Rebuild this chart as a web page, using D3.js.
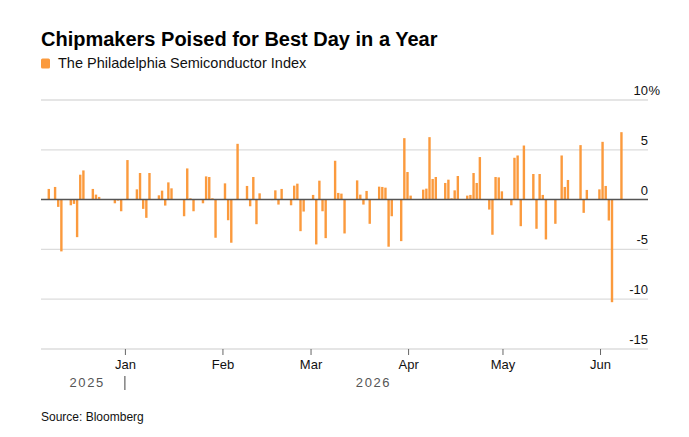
<!DOCTYPE html>
<html>
<head>
<meta charset="utf-8">
<script src="https://cdn.jsdelivr.net/npm/d3@7"></script>
<style>
  html, body { margin: 0; padding: 0; background: #fff; }
  body { width: 689px; height: 437px; overflow: hidden; font-family: "Liberation Sans", Arial, sans-serif; }
  .grid line { stroke: #dcdcdc; stroke-width: 1.3; }
  .ylab { font-size: 13px; fill: #111; }
  .mlab { font-size: 13px; fill: #111; }
  .yrlab { font-size: 13px; fill: #555; letter-spacing: 1.6px; }
</style>
</head>
<body>
<div id="chart"></div>
<script>
// ── data: daily % change, Philadelphia Semiconductor Index ────────────────────
const dates = [
  '2025-12-08','2025-12-10','2025-12-11','2025-12-12',
  '2025-12-15','2025-12-16','2025-12-17','2025-12-18','2025-12-19',
  '2025-12-22','2025-12-23','2025-12-24','2025-12-26',
  '2025-12-29','2025-12-30','2025-12-31','2026-01-02',
  '2026-01-05','2026-01-06','2026-01-07','2026-01-08','2026-01-09',
  '2026-01-12','2026-01-13','2026-01-14','2026-01-15','2026-01-16',
  '2026-01-20','2026-01-21','2026-01-22','2026-01-23',
  '2026-01-26','2026-01-27','2026-01-28','2026-01-29','2026-01-30',
  '2026-02-02','2026-02-03','2026-02-04','2026-02-06',
  '2026-02-09','2026-02-10','2026-02-11','2026-02-12','2026-02-13',
  '2026-02-17','2026-02-18','2026-02-19','2026-02-20',
  '2026-02-23','2026-02-24','2026-02-25','2026-02-26','2026-02-27',
  '2026-03-02','2026-03-03','2026-03-04','2026-03-05','2026-03-06',
  '2026-03-09','2026-03-10','2026-03-11','2026-03-12',
  '2026-03-16','2026-03-17','2026-03-18','2026-03-19','2026-03-20',
  '2026-03-23','2026-03-24','2026-03-25','2026-03-26','2026-03-27',
  '2026-03-30','2026-03-31','2026-04-01','2026-04-02',
  '2026-04-06','2026-04-07','2026-04-08','2026-04-09','2026-04-10',
  '2026-04-13','2026-04-14','2026-04-15','2026-04-16','2026-04-17',
  '2026-04-20','2026-04-21','2026-04-22','2026-04-23','2026-04-24',
  '2026-04-27','2026-04-28','2026-04-29','2026-04-30','2026-05-01',
  '2026-05-04','2026-05-05','2026-05-06','2026-05-07','2026-05-08',
  '2026-05-11','2026-05-12','2026-05-13','2026-05-14','2026-05-15',
  '2026-05-18','2026-05-20','2026-05-21','2026-05-22',
  '2026-05-26','2026-05-27','2026-05-28',
  '2026-06-01','2026-06-02','2026-06-03','2026-06-04','2026-06-05',
  '2026-06-08'
];
const changes = [
  1.07, 1.27, -0.73, -5.2,
  -0.57, -0.43, -3.77, 2.5, 2.93,
  1.07, 0.5, 0.27, 0.05,
  -0.37, -0.1, -1.17, 3.97,
  1.03, 2.67, -0.93, -1.83, 2.67,
  0.43, 0.9, -0.6, 1.73, 1.13,
  -1.67, 3.13, 0.13, -1.17,
  -0.37, 2.33, 2.27, 0.13, -3.83,
  1.63, -2.07, -4.33, 5.6,
  1.37, -0.67, 2.27, -2.47, 0.63,
  -0.05, 0.93, -0.5, 1.07,
  -0.57, 1.4, 1.6, -3.17, -1.2,
  0.47, -4.5, 1.9, -1.17, -3.87,
  3.9, 0.67, 0.6, -3.4,
  1.93, 0.5, -0.5, 0.87, -2.43,
  1.3, 1.27, 1.2, -4.73, -1.67,
  -4.17, 6.17, 2.77, 0.4,
  1.0, 1.1, 6.27, 2.07, 2.27,
  1.67, 2.0, 0.13, 0.93, 2.37,
  0.4, 0.47, 2.67, 1.67, 4.27,
  -1.0, -3.53, 2.27, 2.23, 0.83,
  -0.57, 4.2, 4.43, -2.67, 5.43,
  2.57, -2.93, 2.57, 0.47, -4.0,
  -2.43, 4.43, 1.27, 1.97,
  5.47, -1.33, 0.97,
  1.03, 5.8, 1.37, -2.1, -10.3,
  6.77
];
const yTicks = [10, 5, 0, -5, -10, -15];
const monthTicks = ['2026-01-01','2026-02-01','2026-03-01','2026-04-01','2026-05-01','2026-06-01'];
const monthLabels = ['Jan', 'Feb', 'Mar', 'Apr', 'May', 'Jun'];
const yearLabels = ['2025', '2026'];

const title = 'Chipmakers Poised for Best Day in a Year';
const seriesName = 'The Philadelphia Semiconductor Index';
const source = 'Source: Bloomberg';
const barColor = '#fb9a3d';

// ── layout ───────────────────────────────────────────────────────────────────
const W = 689, H = 437;
const plotLeft = 41, plotRight = 648, plotTop = 100, plotBottom = 349;

const parse = d3.utcParse('%Y-%m-%d');
const rows = dates.map((d, i) => ({ date: parse(d), v: changes[i] }));

const xScale = d3.scaleUtc()
  .domain([Date.UTC(2025, 11, 5, 8), Date.UTC(2026, 5, 16, 6)])
  .range([plotLeft, plotRight]);

const yScale = d3.scaleLinear()
  .domain([-15, 10])
  .range([plotBottom, plotTop]);

const svg = d3.select('#chart')
  .append('svg')
    .attr('width', W)
    .attr('height', H);

// ── title + legend ───────────────────────────────────────────────────────────
svg.append('text')
  .attr('x', plotLeft).attr('y', 46)
  .attr('font-size', 20).attr('font-weight', 700)
  .attr('fill', '#000')
  .text(title);

svg.append('rect')
  .attr('x', plotLeft).attr('y', 58.5)
  .attr('width', 9).attr('height', 10)
  .attr('rx', 1.5)
  .attr('fill', barColor);

svg.append('text')
  .attr('x', 58).attr('y', 68)
  .attr('font-size', 14.5).attr('fill', '#111')
  .text(seriesName);

// ── y grid + labels ──────────────────────────────────────────────────────────
const grid = svg.append('g').attr('class', 'grid');
grid.selectAll('line')
  .data(yTicks.filter(t => t !== 0))
  .join('line')
    .attr('x1', plotLeft).attr('x2', plotRight)
    .attr('y1', d => yScale(d)).attr('y2', d => yScale(d));

svg.append('g')
  .selectAll('text')
  .data(yTicks)
  .join('text')
    .attr('class', 'ylab')
    .attr('x', plotRight)
    .attr('y', d => yScale(d) - 5)
    .attr('text-anchor', 'end')
    .text(d => d);

// percent sign hangs past the right edge on the top label
svg.append('text')
  .attr('class', 'ylab')
  .attr('x', plotRight + 0.5)
  .attr('y', yScale(yTicks[0]) - 5)
  .text('%');

// ── bars ─────────────────────────────────────────────────────────────────────
svg.append('g')
  .selectAll('rect')
  .data(rows)
  .join('rect')
    .attr('x', d => xScale(d.date) - 1.8)
    .attr('width', 2.4)
    .attr('y', d => yScale(Math.max(0, d.v)))
    .attr('height', d => Math.abs(yScale(d.v) - yScale(0)))
    .attr('fill', barColor);

// zero line on top
svg.append('line')
  .attr('x1', plotLeft).attr('x2', plotRight)
  .attr('y1', yScale(0)).attr('y2', yScale(0))
  .attr('stroke', '#555').attr('stroke-width', 1.5);

// ── x axis (months) ──────────────────────────────────────────────────────────
const monthDates = monthTicks.map(parse);
svg.append('g')
  .attr('transform', `translate(0,${plotBottom})`)
  .call(
    d3.axisBottom(xScale)
      .tickValues(monthDates)
      .tickSize(6)
      .tickPadding(5)
      .tickFormat((d, i) => monthLabels[i])
  )
  .call(g => g.select('.domain').remove())
  .call(g => g.selectAll('.tick line').attr('stroke', '#666').attr('stroke-width', 1))
  .call(g => g.selectAll('.tick text')
    .attr('class', 'mlab')
    .attr('font-family', null).attr('font-size', null)
    .attr('fill', '#111'));

// years: centred on each year's span of data, with a divider at the boundary
const yearStart = monthDates[0];
const firstDay = rows[0].date, lastDay = rows[rows.length - 1].date;
const yearCentres = [
  (xScale(firstDay) + xScale(yearStart)) / 2,
  (xScale(yearStart) + xScale(lastDay)) / 2
];
svg.append('g')
  .selectAll('text')
  .data(yearLabels)
  .join('text')
    .attr('class', 'yrlab')
    .attr('x', (d, i) => yearCentres[i])
    .attr('y', 387)
    .attr('text-anchor', 'middle')
    .text(d => d);

svg.append('line')
  .attr('x1', xScale(yearStart)).attr('x2', xScale(yearStart))
  .attr('y1', 376).attr('y2', 390)
  .attr('stroke', '#444').attr('stroke-width', 1);

// ── source ───────────────────────────────────────────────────────────────────
svg.append('text')
  .attr('x', plotLeft).attr('y', 421)
  .attr('font-size', 12).attr('fill', '#111')
  .text(source);
</script>
</body>
</html>
